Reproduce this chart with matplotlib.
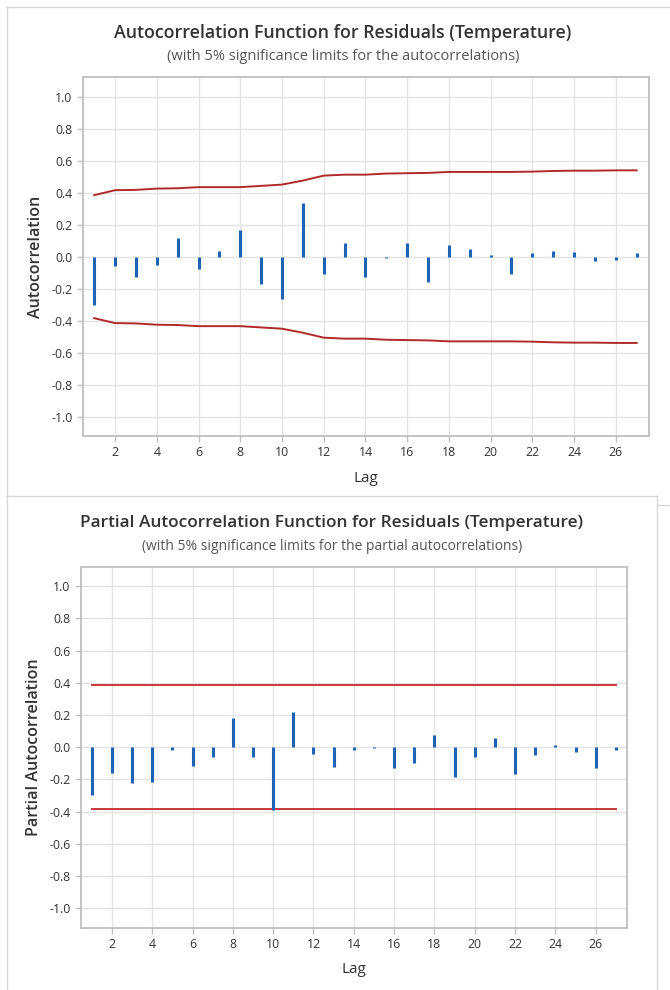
"""ACF / PACF of residuals (Temperature), Minitab style"""
import matplotlib
matplotlib.use('Agg')
import matplotlib.pyplot as plt
from matplotlib.lines import Line2D

# data
lags = list(range(1, 28))
acf = [-0.30, -0.058, -0.13, -0.052, 0.118, -0.075, 0.033, 0.164, -0.172, -0.266,
       0.336, -0.106, 0.087, -0.13, -0.01, 0.087, -0.156, 0.073, 0.046, 0.01,
       -0.106, 0.02, 0.037, 0.029, -0.027, -0.019, 0.025]
acf_limit = [0.384, 0.415, 0.417, 0.425, 0.427, 0.434, 0.434, 0.434, 0.442, 0.450,
             0.475, 0.506, 0.512, 0.512, 0.519, 0.521, 0.523, 0.529, 0.529, 0.529,
             0.529, 0.531, 0.535, 0.537, 0.537, 0.539, 0.539]
pacf = [-0.296, -0.159, -0.222, -0.213, -0.019, -0.116, -0.06, 0.184, -0.058, -0.387,
        0.217, -0.043, -0.122, -0.02, -0.006, -0.126, -0.10, 0.075, -0.188, -0.06,
        0.06, -0.168, -0.046, 0.012, -0.029, -0.132, -0.019]
pacf_limit = [0.383] * len(lags)
xticks = list(range(2, 27, 2))
yticks = [-1.0, -0.8, -0.6, -0.4, -0.2, 0.0, 0.2, 0.4, 0.6, 0.8, 1.0]

FONT = 'Open Sans'
TXT = '#333333'
GRID = '#e4e4e4'
SPINE = '#c0c0c0'
BLUE = '#1f63b5'

W, H = 670, 990
fig = plt.figure(figsize=(W / 100, H / 100), dpi=100)
fig.patch.set_facecolor('white')


def px_axes(left, top, right, bottom):
    return fig.add_axes([left / W, 1 - bottom / H, (right - left) / W, (bottom - top) / H])


def style_axes(ax, ylabel, xmax):
    ax.set_xlim(0.45, xmax)
    ax.set_ylim(-1.12, 1.12)
    ax.set_xticks(xticks)
    ax.set_yticks(yticks)
    ax.set_yticklabels([f'{t:.1f}' for t in yticks])
    ax.grid(True, color=GRID, linewidth=1.0)
    ax.set_axisbelow(True)
    for s in ax.spines.values():
        s.set_color(SPINE)
        s.set_linewidth(1.3)
    ax.tick_params(colors=SPINE, labelcolor=TXT, length=4, width=1, labelsize=8.8)
    for lab in ax.get_xticklabels() + ax.get_yticklabels():
        lab.set_family(FONT)
    ax.set_xlabel('Lag', family=FONT, fontsize=11, color=TXT, labelpad=8)
    ax.set_ylabel(ylabel, family=FONT, fontsize=11.6, color=TXT, fontweight='semibold', labelpad=5)


# top: ACF
ax1 = px_axes(82.7, 77.3, 649, 436)
style_axes(ax1, 'Autocorrelation', 27.59)
ax1.vlines(lags, 0, acf, color=BLUE, linewidth=2.2, zorder=3)
ax1.plot(lags, acf_limit, color='#b02a2a', linewidth=1.4, zorder=2)
ax1.plot(lags, [-v for v in acf_limit], color='#b02a2a', linewidth=1.4, zorder=2)

# bottom: PACF
ax2 = px_axes(80.7, 566.7, 627.3, 927.7)
style_axes(ax2, 'Partial Autocorrelation', 27.57)
ax2.vlines(lags, 0, pacf, color=BLUE, linewidth=2.2, zorder=3)
ax2.plot(lags, pacf_limit, color='#c8383a', linewidth=1.4, zorder=2)
ax2.plot(lags, [-v for v in pacf_limit], color='#c8383a', linewidth=1.4, zorder=2)

# titles
fig.text(343 / W, 1 - 33 / H, 'Autocorrelation Function for Residuals (Temperature)',
         ha='center', va='center', family=FONT, fontsize=12.8, fontweight='semibold', color=TXT)
fig.text(343 / W, 1 - 57 / H, '(with 5% significance limits for the autocorrelations)',
         ha='center', va='center', family=FONT, fontsize=10.5, color='#555555')
fig.text(332 / W, 1 - 523 / H, 'Partial Autocorrelation Function for Residuals (Temperature)',
         ha='center', va='center', family=FONT, fontsize=12.4, fontweight='semibold', color=TXT)
fig.text(332 / W, 1 - 547 / H, '(with 5% significance limits for the partial autocorrelations)',
         ha='center', va='center', family=FONT, fontsize=10, color='#555555')

# screenshot panel borders
BORDER = '#d8d8d8'
for xs, ys in [([6.5, 6.5], [7, 990]), ([6, 670], [7, 7]), ([6, 657], [496, 496]),
               ([657, 657], [496, 990]), ([657, 670], [505, 505])]:
    fig.add_artist(Line2D([x / W for x in xs], [1 - y / H for y in ys],
                          color=BORDER, linewidth=1.0, transform=fig.transFigure))

fig.savefig('out.png', dpi=100, facecolor='white')
